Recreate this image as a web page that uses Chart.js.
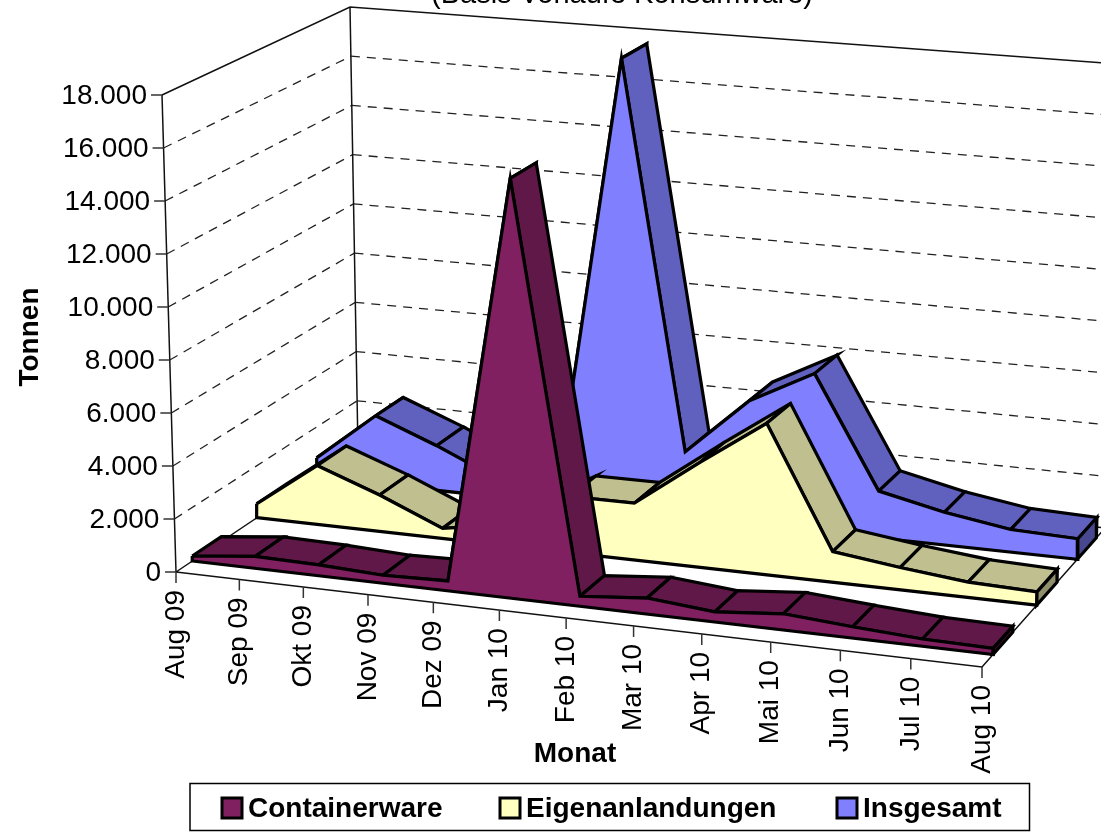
<!DOCTYPE html>
<html>
<head>
<meta charset="utf-8">
<title>Monat / Tonnen</title>
<script src="https://cdn.jsdelivr.net/npm/chart.js@4"></script>
<style>
  html, body { margin: 0; padding: 0; background: #fff; }
  canvas { display: block; }
</style>
</head>
<body>
<canvas id="chart" width="1101" height="832"></canvas>
<script>
// Values
const months = ['Aug 09', 'Sep 09', 'Okt 09', 'Nov 09', 'Dez 09', 'Jan 10', 'Feb 10', 'Mar 10', 'Apr 10', 'Mai 10', 'Jun 10', 'Jul 10', 'Aug 10'];
const containerware = [190, 450, 410, 300, 370, 15600, 370, 590, 370, 590, 410, 260, 220];
const eigenanlandungen = [540, 2290, 1410, 390, 800, 2150, 2160, 3970, 5700, 1150, 830, 570, 490];
const insgesamt = [780, 2710, 1770, 700, 1180, 17700, 2540, 4780, 6080, 1800, 1250, 860, 780];
const yTicks = [0, 2000, 4000, 6000, 8000, 10000, 12000, 14000, 16000, 18000];
const yMax = 18000;

// Screen position of the 8 corners of the 3D box (f = front, b = back, l/r, 0 = floor, 1 = top)
const box = {
    fl0: [176, 572], fr0: [982, 667], bl0: [358, 450], br0: [1105, 528],
    fl1: [162, 95],  fr1: [992, 162], bl1: [350, 7],   br1: [1118, 64]
};
const perspective = 1.066;

const lerp = (a, b, t) => [a[0] + (b[0] - a[0]) * t, a[1] + (b[1] - a[1]) * t];

// month index + depth (0..1) + value -> point for the x/y scales
function project(m, depth, value) {
    const t = m / (months.length - 1);
    const u = t / (t + perspective * (1 - t));
    const h = value / yMax;
    const floor = lerp(lerp(box.fl0, box.fr0, u), lerp(box.bl0, box.br0, u), depth);
    const top = lerp(lerp(box.fl1, box.fr1, u), lerp(box.bl1, box.br1, u), depth);
    const p = lerp(floor, top, h);
    return { x: p[0], y: p[1] };
}

const datasets = [];

function addLine(points, color, width, dash) {
    datasets.push({
        data: points, showLine: true, fill: false, borderColor: color, borderWidth: width,
        borderDash: dash || [], pointRadius: 0, tension: 0, borderJoinStyle: 'miter'
    });
}

function addPoly(points, color) {
    datasets.push({
        data: points.concat([points[0]]), showLine: true, fill: 'shape', backgroundColor: color,
        borderColor: '#000', borderWidth: 3.2, pointRadius: 0, tension: 0, borderJoinStyle: 'miter'
    });
}

// Walls and grid
const lastM = months.length - 1;
yTicks.forEach(v => {
    if (v > 0 && v < yMax) {
        addLine([project(0, 0, v), project(0, 1, v)], '#222', 1.3, [9, 7]);
        addLine([project(0, 1, v), project(lastM, 1, v)], '#222', 1.3, [9, 7]);
    }
});
addLine([project(0, 0, yMax), project(0, 1, yMax), project(lastM, 1, yMax)], '#111', 1.5);
addLine([project(0, 0, 0), project(0, 0, yMax)], '#111', 1.5);
addLine([project(0, 1, 0), project(0, 1, yMax)], '#111', 1.5);
addLine([project(0, 0, 0), project(0, 1, 0), project(lastM, 1, 0), project(lastM, 0, 0), project(0, 0, 0)], '#111', 1.5);

// Axis ticks
const ox = 11;
yTicks.forEach(v => {
    const p = project(0, 0, v);
    addLine([{ x: p.x - ox, y: p.y }, p], '#333', 1.5);
});
months.forEach((m, i) => {
    const p = project(i, 0, 0);
    addLine([p, { x: p.x, y: p.y + 11 }], '#333', 1.5);
});

// One ribbon: top strips, front face, end cap
function addSeries(values, d0, d1, front, strip, cap) {
    for (let i = 0; i < lastM; i++) {
        addPoly([project(i, d0, values[i]), project(i + 1, d0, values[i + 1]), project(i + 1, d1, values[i + 1]), project(i, d1, values[i])], strip);
    }
    const face = values.map((v, i) => project(i, d0, v));
    face.push(project(lastM, d0, 0), project(0, d0, 0));
    addPoly(face, front);
    addPoly([project(lastM, d0, values[lastM]), project(lastM, d1, values[lastM]), project(lastM, d1, 0), project(lastM, d0, 0)], cap);
}

addSeries(insgesamt, 0.775, 0.93, '#8080FF', '#6060BF', '#484890');
addSeries(eigenanlandungen, 0.445, 0.61, '#FFFFC0', '#BFBF90', '#8F8F6C');
addSeries(containerware, 0.09, 0.25, '#802060', '#601848', '#481236');

// first pushed = bottom of the pile
datasets.forEach((d, i) => { d.order = -i; });

const legendItems = [
    { label: 'Containerware', color: '#802060', x: 222 },
    { label: 'Eigenanlandungen', color: '#FFFFC0', x: 500 },
    { label: 'Insgesamt', color: '#8080FF', x: 837 }
];

const labelsPlugin = {
    id: 'labels3d',
    afterDatasetsDraw(chart) {
        const c = chart.ctx;
        const sx = chart.scales.x, sy = chart.scales.y;
        c.save();
        c.fillStyle = '#000';

        // Cut off title at the top edge
        c.font = '29px "Liberation Sans"';
        c.textAlign = 'center';
        c.textBaseline = 'alphabetic';
        c.fillText('(Basis Vorläufe Konsumware)', 622, 3);

        // Y tick labels
        c.font = '28px "Liberation Sans"';
        c.textAlign = 'right';
        c.textBaseline = 'middle';
        yTicks.forEach(v => {
            const p = project(0, 0, v);
            c.fillText(v.toLocaleString('de-DE'), sx.getPixelForValue(p.x) - 15, sy.getPixelForValue(p.y) + 1);
        });

        // Month labels, turned
        months.forEach((m, i) => {
            const p = project(i, 0, 0);
            c.save();
            c.translate(sx.getPixelForValue(p.x), sy.getPixelForValue(p.y) + 18);
            c.rotate(-Math.PI / 2);
            c.fillText(m, 0, 0);
            c.restore();
        });

        // Axis titles
        c.font = 'bold 28px "Liberation Sans"';
        c.textAlign = 'center';
        c.fillText('Monat', 575, 754);
        c.save();
        c.translate(30, 337);
        c.rotate(-Math.PI / 2);
        c.fillText('Tonnen', 0, 0);
        c.restore();

        // Legend
        c.strokeStyle = '#000';
        c.lineWidth = 1.5;
        c.strokeRect(190, 783.5, 839.5, 47);
        c.textAlign = 'left';
        legendItems.forEach(it => {
            c.fillStyle = it.color;
            c.lineWidth = 3;
            c.fillRect(it.x, 798, 20, 20);
            c.strokeRect(it.x, 798, 20, 20);
            c.fillStyle = '#000';
            c.fillText(it.label, it.x + 26, 809);
        });
        c.restore();
    }
};

new Chart(document.getElementById('chart').getContext('2d'), {
    type: 'scatter',
    data: { datasets: datasets },
    options: {
        responsive: false,
        animation: false,
        devicePixelRatio: 1,
        layout: { padding: 0 },
        scales: {
            x: { type: 'linear', min: 0, max: 1101, display: false },
            y: { type: 'linear', min: 0, max: 832, reverse: true, display: false }
        },
        plugins: { legend: { display: false }, tooltip: { enabled: false }, title: { display: false } }
    },
    plugins: [labelsPlugin]
});
</script>
</body>
</html>
